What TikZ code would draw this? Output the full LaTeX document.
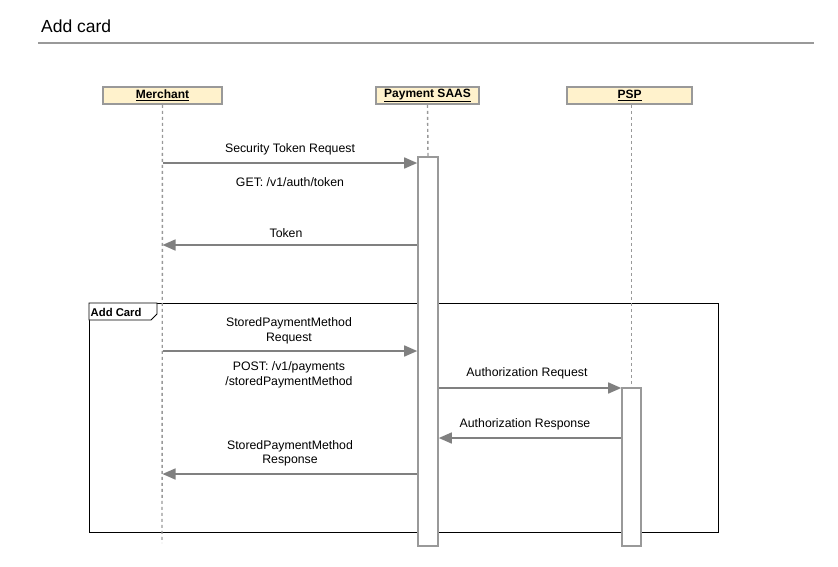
\documentclass[tikz,border=0pt]{standalone}
\usepackage{fontspec}
\setmainfont{Liberation Sans}
\usetikzlibrary{arrows.meta}
\definecolor{actfill}{HTML}{FFF2CC}
\definecolor{edge}{HTML}{999999}
\definecolor{msgcol}{HTML}{808080}
\tikzset{
  actor/.style={draw=edge, line width=1.6pt, fill=actfill, inner sep=0pt,
    font=\fontsize{12}{14}\selectfont\bfseries},
  lifeline/.style={draw=edge, line width=1.4pt, dash pattern=on 3pt off 3pt},
  activation/.style={draw=edge, line width=1.6pt, fill=white, inner sep=0pt},
  msg/.style={draw=msgcol, line width=1.6pt,
    -{Triangle[length=13pt,width=11pt]}},
  lbl/.style={font=\fontsize{12.3}{14.5}\selectfont, align=center, inner sep=0pt},
}
\begin{document}
\begin{tikzpicture}[x=1pt,y=-1pt]
\useasboundingbox (0,0) rectangle (838,566);

% heading
\node[anchor=base west, inner sep=0pt, font=\fontsize{17.5}{20}\selectfont] (title) at (41,32) {Add card};
\draw[edge, line width=2pt] (38,43) -- (814,43);

% participants
\node[actor, minimum width=119pt, minimum height=17pt] (m) at (162.5,95.5) {\underline{Merchant}};
\node[actor, minimum width=103pt, minimum height=17pt] (s) at (427.5,95.5) {\underline{Payment SAAS}};
\node[actor, minimum width=125pt, minimum height=17pt] (p) at (629.5,95.5) {\underline{PSP}};

% combined fragment
\draw[black, line width=0.9pt] (89,303) rectangle (718,532);
\draw[black, line width=0.9pt, fill=white] (89,303) -- (157,303) -- (157,314) -- (151,320) -- (89,320) -- cycle;
\node[anchor=west, inner sep=0pt, font=\fontsize{11.3}{13}\selectfont\bfseries] (frag) at (90.5,312.5) {Add Card};

% lifelines
\coordinate (mend) at (162,543);
\draw[lifeline] (m.south) -- (mend);

% activation bars
\node[activation, minimum width=20pt, minimum height=389pt] (sa) at (428,351.5) {};
\node[activation, minimum width=19pt, minimum height=158pt] (pa) at (631.5,467) {};
\draw[lifeline] (s.south) -- (sa.north);
\draw[lifeline] (p.south -| pa.north) -- (pa.north);

% messages
\draw[msg] (m.south |- 0,163) -- (sa.west |- 0,163);
\node[lbl] (l1) at (290,149) {Security Token Request};
\node[lbl] (l1b) at (290,182) {GET: /v1/auth/token};

\draw[msg] (sa.west |- 0,245) -- (m.south |- 0,245);
\node[lbl] (l2) at (286,233) {Token};

\draw[msg] (m.south |- 0,351) -- (sa.west |- 0,351);
\node[lbl] (l3) at (289,331) {StoredPaymentMethod\\Request};
\node[lbl] (l3b) at (289,375) {POST: /v1/payments\\/storedPaymentMethod};

\draw[msg] (sa.east |- 0,388) -- (pa.west |- 0,388);
\node[lbl] (l4) at (527,373) {Authorization Request};

\draw[msg] (pa.west |- 0,438) -- (sa.east |- 0,438);
\node[lbl] (l5) at (525,424) {Authorization Response};

\draw[msg] (sa.west |- 0,474) -- (m.south |- 0,474);
\node[lbl] (l6) at (290,453.5) {StoredPaymentMethod\\Response};
\end{tikzpicture}
\end{document}
